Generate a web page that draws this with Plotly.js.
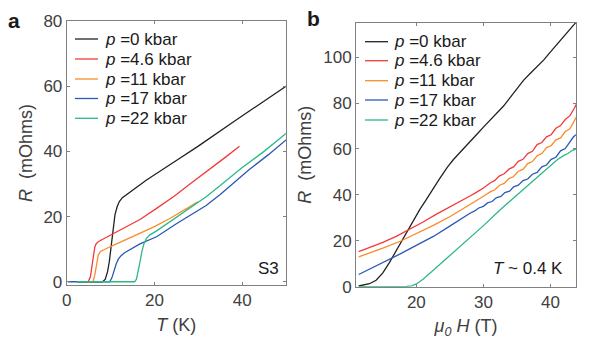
<!DOCTYPE html>
<html>
<head>
<meta charset="utf-8">
<script src="https://cdn.plot.ly/plotly-3.0.1.min.js"></script>
<style>html,body{margin:0;padding:0;background:#fff;}#chart{width:598px;height:353px;}</style>
</head>
<body>
<div id="chart"></div>
<script>
// ---------- Panel a: R vs T ----------
const seriesNames = ["<i>p</i> =0 kbar", "<i>p</i> =4.6 kbar", "<i>p</i> =11 kbar", "<i>p</i> =17 kbar", "<i>p</i> =22 kbar"];
const seriesColors = ["#222222", "#f23a3a", "#f98b2a", "#2a58b5", "#2cb887"];

const aT_0   = [2.5, 8.2, 8.8, 9.3, 9.7, 10.1, 10.5, 11.0, 11.5, 12.0, 12.7, 13.5, 15.0, 16.7, 18.2, 25, 30, 38.3, 44, 50];
const aR_0   = [0, 0, 0.8, 3, 6, 10.5, 16, 20.5, 23.0, 24.6, 25.8, 26.6, 28.1, 29.8, 31.2, 37.2, 41.6, 49.3, 54.6, 60];
const aT_46  = [2.5, 4.9, 5.4, 5.8, 6.1, 6.4, 6.7, 7.2, 8.0, 10.6, 13.5, 16.7, 20.5, 24.5, 28.1, 32.6, 36, 39.4];
const aR_46  = [0, 0, 1.5, 5, 8.5, 10.6, 11.6, 12.3, 12.9, 14.8, 17.0, 19.1, 22.5, 26.2, 30.0, 34.5, 38.0, 41.6];
const aT_11  = [2.5, 6.0, 6.4, 6.8, 7.2, 7.7, 8.5, 10.0, 13.0, 16.7, 20.0, 23.5, 26.5, 29.9];
const aR_11  = [0, 0, 2, 5.5, 8.2, 9.3, 9.9, 10.8, 12.6, 14.8, 16.9, 19.4, 21.8, 24.5];
const aT_17  = [0.3, 9.8, 10.3, 10.8, 11.3, 11.8, 12.4, 13.2, 15.0, 16.7, 20.5, 25.0, 31.8, 35.0, 41.7, 46.0, 50.0];
const aR_17  = [0, 0, 1.2, 3.5, 5.5, 7.0, 8.0, 8.9, 10.4, 11.6, 13.8, 17.8, 23.4, 26.8, 34.5, 39.0, 43.5];
const aT_22  = [2.3, 15.5, 15.9, 16.3, 16.7, 17.1, 17.6, 18.2, 18.9, 20.5, 25.0, 31.8, 35.0, 39.8, 45.0, 50.0];
const aR_22  = [0, 0, 0.8, 3, 6, 9, 11.6, 13.3, 14.3, 15.6, 19.8, 26.1, 29.5, 34.8, 40.0, 45.5];

// ---------- Panel b: R vs mu0 H ----------
const bH_0  = [11.4, 12, 13, 14, 15, 16, 16.5, 17, 18, 18.5, 19, 20, 20.5, 21.5, 22.5, 23.3, 24.6, 25.5, 26.6, 27.5, 28.6, 29.3, 30, 31, 32, 33, 34, 35, 36, 37, 38, 39, 40, 41, 42, 43, 43.9];
const bR_0  = [0.3, 0.6, 1.3, 2.8, 6.0, 10.6, 13.2, 15.6, 20.8, 23.5, 26.0, 31.0, 33.6, 38.0, 42.3, 46.3, 52.0, 55.3, 58.8, 61.5, 65.0, 67.3, 69.5, 72.5, 75.5, 78.7, 82.5, 86.5, 90.0, 93.0, 95.8, 98.8, 102.3, 105.8, 109.2, 112.5, 115.5];
const bH_46 = [11.4, 13, 15, 17, 19, 21, 23, 25.1, 26, 28, 29, 30, 31, 31.7, 32.4, 33.1, 33.8, 34.5, 35.2, 35.9, 36.6, 37.3, 38.0, 38.7, 39.4, 40.1, 40.8, 41.5, 42.2, 42.9, 43.5, 43.9];
const bR_46 = [15.3, 17.0, 19.3, 21.9, 24.9, 28.2, 31.6, 34.8, 36.2, 39.5, 41.2, 43.0, 45.2, 46.3, 48.3, 49.2, 51.2, 52.2, 54.6, 55.5, 58.0, 59.0, 61.9, 62.8, 65.3, 66.2, 69.0, 70.2, 72.8, 74.5, 77.5, 79.7];
const bH_11 = [11.4, 13, 15, 17.6, 20, 22.6, 25.1, 26, 28, 30, 31, 31.7, 32.4, 33.1, 33.8, 34.5, 35.2, 35.9, 36.6, 37.3, 38.0, 38.7, 39.4, 40.1, 40.8, 41.5, 42.2, 42.9, 43.5, 43.9];
const bR_11 = [13.0, 14.6, 16.8, 19.8, 23.0, 26.8, 30.7, 32.2, 35.8, 39.4, 41.3, 42.2, 44.2, 45.0, 47.1, 48.0, 50.3, 51.1, 53.6, 54.5, 57.0, 58.0, 60.6, 61.4, 64.0, 64.8, 67.6, 68.8, 71.8, 74.2];
const bH_17 = [11.4, 13, 15, 16.8, 17.6, 19, 21, 22.6, 25.1, 26, 28, 28.7, 29.3, 30, 30.6, 31.3, 31.9, 32.6, 33.2, 33.9, 34.5, 35.2, 35.9, 36.6, 37.3, 38.0, 38.7, 39.4, 40.1, 40.8, 41.5, 42.2, 42.9, 43.4, 43.8];
const bR_17 = [5.3, 7.6, 10.3, 13.2, 14.3, 16.5, 19.5, 22.0, 26.6, 28.3, 32.0, 33.0, 34.3, 35.0, 36.5, 37.1, 38.7, 39.3, 41.0, 41.6, 43.5, 44.2, 46.2, 46.9, 49.0, 49.8, 52.2, 53.0, 55.5, 56.4, 59.2, 60.2, 63.0, 65.2, 66.2];
const bH_22 = [11.4, 13, 15, 17, 18.5, 19.3, 20, 21, 22, 23, 24, 25, 26, 27.8, 30, 32.5, 35, 37.5, 39, 40, 41, 42, 42.6, 43.2, 43.8];
const bR_22 = [0, 0, 0, 0, 0.1, 0.4, 1.2, 3.2, 5.8, 8.5, 11.0, 13.5, 16.0, 20.8, 26.6, 33.5, 40.0, 46.5, 50.2, 52.6, 55.3, 57.2, 58.0, 59.3, 60.0];

const aX = [aT_0, aT_46, aT_11, aT_17, aT_22];
const aY = [aR_0, aR_46, aR_11, aR_17, aR_22];
const bX = [bH_0, bH_46, bH_11, bH_17, bH_22];
const bY = [bR_0, bR_46, bR_11, bR_17, bR_22];

const traces = [];
for (let i = 0; i < 5; i++) {
  traces.push({x: aX[i], y: aY[i], type: 'scatter', mode: 'lines', name: seriesNames[i],
    line: {color: seriesColors[i], width: 1.3}, xaxis: 'x', yaxis: 'y', showlegend: false});
}
for (let i = 0; i < 5; i++) {
  traces.push({x: bX[i], y: bY[i], type: 'scatter', mode: 'lines', name: seriesNames[i],
    line: {color: seriesColors[i], width: 1.3}, xaxis: 'x2', yaxis: 'y2', showlegend: false});
}

const FONT = "Liberation Sans, Arial, sans-serif";
const TXT = "#404040";
const AXC = "#808080";

function axisBase(extra) {
  return Object.assign({
    showline: true, mirror: 'ticks', linecolor: AXC, linewidth: 1,
    ticks: 'inside', ticklen: 3, tickcolor: AXC, tickwidth: 1,
    showgrid: false, zeroline: false,
    tickfont: {family: FONT, size: 17, color: TXT}
  }, extra);
}

// manual legends
const shapes = [];
const annotations = [];
function addLegend(xref, yref, x0, x1, xt, ys) {
  for (let i = 0; i < 5; i++) {
    shapes.push({type: 'line', xref: xref, yref: yref, x0: x0, x1: x1, y0: ys[i], y1: ys[i],
      line: {color: seriesColors[i], width: 1.3}});
    annotations.push({xref: xref, yref: yref, x: xt, y: ys[i], text: seriesNames[i], showarrow: false,
      xanchor: 'left', yanchor: 'middle', font: {family: FONT, size: 17, color: '#1a1a1a'}});
  }
}
// panel a: domain px x 66.7-286, y 21-285
addLegend('x domain', 'y domain', (75-66.7)/219.3, (98-66.7)/219.3, (103-66.7)/219.3,
  [39, 59, 79, 98.5, 118.3].map(v => (285 - v)/264));
// panel b: domain px x 356-576, y 22.7-286.7
addLegend('x2 domain', 'y2 domain', (365-356)/220, (388-356)/220, (392-356)/220,
  [41.7, 60.7, 80.7, 100, 120].map(v => (286.7 - v)/264));

annotations.push({xref: 'paper', yref: 'paper', x: 6/598, y: 1 - 20/353, text: '<b>a</b>', showarrow: false,
  xanchor: 'left', yanchor: 'middle', font: {family: FONT, size: 21, color: '#1a1a1a'}});
annotations.push({xref: 'paper', yref: 'paper', x: 305/598, y: 1 - 19/353, text: '<b>b</b>', showarrow: false,
  xanchor: 'left', yanchor: 'middle', font: {family: FONT, size: 21, color: '#1a1a1a'}});
annotations.push({xref: 'paper', yref: 'paper', x: 281/598, y: 1 - 268.5/353, text: 'S3', showarrow: false,
  xanchor: 'right', yanchor: 'middle', font: {family: FONT, size: 17, color: '#1a1a1a'}});
annotations.push({xref: 'paper', yref: 'paper', x: 565/598, y: 1 - 268/353, text: '<i>T</i> ~ 0.4 K', showarrow: false,
  xanchor: 'right', yanchor: 'middle', font: {family: FONT, size: 17, color: '#1a1a1a'}});

const layout = {
  width: 598, height: 353,
  margin: {l: 0, r: 0, t: 0, b: 0},
  paper_bgcolor: '#ffffff', plot_bgcolor: '#ffffff',
  font: {family: FONT, color: TXT},
  showlegend: false,
  xaxis: axisBase({domain: [66.7/598, 286/598], range: [0, 50], tickvals: [0, 20, 40],
    title: {text: '<i>T</i> (K)', font: {family: FONT, size: 18, color: TXT}, standoff: 8}, anchor: 'y'}),
  yaxis: axisBase({domain: [1 - 285/353, 1 - 21/353], range: [-1, 80], tickvals: [0, 20, 40, 60, 80],
    title: {text: '<i>R</i>  (mOhms)', font: {family: FONT, size: 18, color: TXT}, standoff: 6}, anchor: 'x'}),
  xaxis2: axisBase({domain: [356/598, 576/598], range: [11, 43.8], tickvals: [20, 30, 40],
    title: {text: '<i>μ<sub>0</sub> H</i> (T)', font: {family: FONT, size: 18, color: TXT}, standoff: 8}, anchor: 'y2'}),
  yaxis2: axisBase({domain: [1 - 286.7/353, 1 - 22.7/353], range: [0, 115], tickvals: [0, 20, 40, 60, 80, 100],
    title: {text: '<i>R</i>  (mOhms)', font: {family: FONT, size: 18, color: TXT}, standoff: 6}, anchor: 'x2'}),
  shapes: shapes,
  annotations: annotations
};

Plotly.newPlot('chart', traces, layout, {displayModeBar: false, staticPlot: true});
</script>
</body>
</html>
